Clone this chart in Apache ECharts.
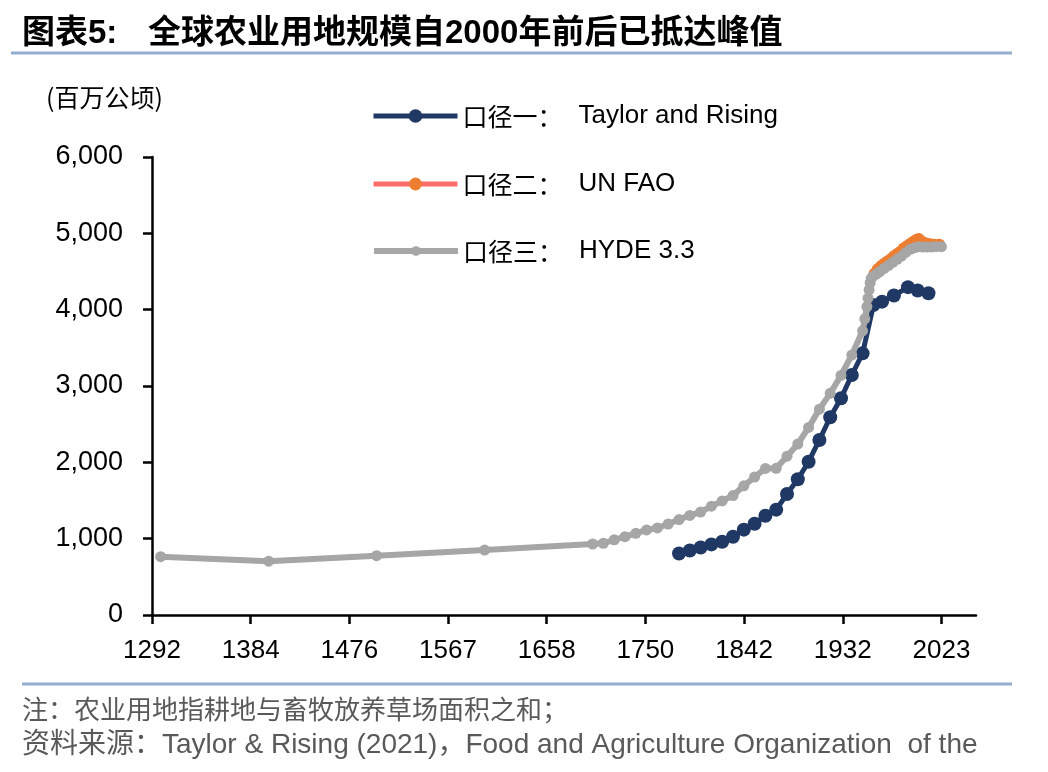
<!DOCTYPE html>
<html>
<head>
<meta charset="utf-8">
<script src="https://cdn.jsdelivr.net/npm/echarts@6/dist/echarts.min.js"></script>
<style>
html,body{margin:0;padding:0;background:#fff;}
#chart{width:1048px;height:772px;}
</style>
</head>
<body>
<div id="chart"></div>
<script>
// ---- data ----
const xTickLabels = ['1292','1384','1476','1567','1658','1750','1842','1932','2023'];
const seriesNames = ['Taylor and Rising', 'UN FAO', 'HYDE 3.3'];
const legendPrefix = ['口径一：', '口径二：', '口径三：'];

const taylorYears  = [1780,1790,1800,1810,1820,1830,1840,1850,1860,1870,1880,1890,1900,1910,1920,1930,1940,1950,1960,1968,1979,1992,2001,2011];
const taylorValues = [805,845,885,925,960,1026,1118,1195,1300,1380,1585,1778,2008,2293,2590,2839,3144,3428,4060,4105,4185,4295,4252,4215];

const faoYears  = [1961,1964,1967,1970,1973,1976,1979,1982,1985,1988,1991,1994,1997,2000,2002,2005,2008,2011,2014,2017,2021];
const faoValues = [4470,4530,4570,4600,4630,4660,4700,4730,4760,4800,4830,4860,4890,4915,4925,4890,4870,4860,4855,4850,4850];

const hydeYears  = [1300,1400,1500,1600,1700,1710,1720,1730,1740,1750,1760,1770,1780,1790,1800,1810,1820,1830,1840,1850,1860,1870,1880,1890,1900,1910,1920,1930,1940,1950,
                    1952,1954,1955,1956,1957,1958,1960,1963,1966,1970,1974,1978,1982,1986,1990,1994,1998,2002,2006,2010,2014,2018,2023];
const hydeValues = [764,705,777,851,930,940,985,1026,1070,1114,1140,1192,1250,1305,1348,1425,1495,1565,1692,1808,1920,1922,2080,2240,2457,2697,2904,3138,3406,3723,
                    3880,4040,4150,4260,4350,4410,4440,4470,4500,4540,4580,4620,4660,4700,4750,4790,4810,4825,4820,4820,4822,4825,4825];

// ---- derived ----
const xMin = 1292, xLast = 2023, xMax = 2055;
const xTickPos = xTickLabels.map((_, i) => xMin + i * (xLast - xMin) / (xTickLabels.length - 1));
const zip = (xs, ys) => xs.map((x, i) => [x, ys[i]]);

const LATIN = '"Liberation Sans", Arial, "Noto Sans CJK SC", sans-serif';
const CJK = '"Noto Sans CJK SC", "Liberation Sans", sans-serif';

const colors = {
  taylor: '#1F3864',
  faoLine: '#FF6B6B',
  faoMark: '#ED7D31',
  hyde: '#A6A6A6'
};

function legendFor(idx, top, itemHeight, lineWidth) {
  return {
    data: [seriesNames[idx]],
    orient: 'vertical',
    left: 366,
    top: top,
    itemWidth: 84,
    itemHeight: itemHeight,
    itemGap: 0,
    lineStyle: { width: lineWidth },
    formatter: name => '{cn|' + legendPrefix[seriesNames.indexOf(name)] + '}{en|' + name + '}',
    textStyle: {
      color: '#000',
      rich: {
        cn: { fontFamily: CJK, fontSize: 25, color: '#000', lineHeight: 30, padding: [0, 16, 0, 0] },
        en: { fontFamily: LATIN, fontSize: 26, color: '#000', lineHeight: 30 }
      }
    },
    selectedMode: false
  };
}

const chart = echarts.init(document.getElementById('chart'), null, { renderer: 'canvas' });

const option = {
  animation: false,
  backgroundColor: '#fff',
  grid: { left: 152, right: 72, top: 157, bottom: 157, containLabel: false },
  legend: [
    legendFor(0, 98, 17, 5),
    legendFor(1, 166, 16, 5),
    legendFor(2, 233, 12, 6)
  ],
  xAxis: {
    type: 'value',
    min: xMin,
    max: xMax,
    splitLine: { show: false },
    axisLine: { show: true, lineStyle: { color: '#000', width: 2.5 } },
    axisTick: { show: true, customValues: xTickPos, length: 9, lineStyle: { color: '#000', width: 2.5 } },
    axisLabel: {
      customValues: xTickPos,
      margin: 23,
      color: '#000',
      fontFamily: LATIN,
      fontSize: 26,
      formatter: v => {
        let best = 0, d = Infinity;
        xTickPos.forEach((p, i) => { if (Math.abs(p - v) < d) { d = Math.abs(p - v); best = i; } });
        return xTickLabels[best];
      }
    }
  },
  yAxis: {
    type: 'value',
    min: 0,
    max: 6000,
    interval: 1000,
    splitLine: { show: false },
    axisLine: { show: true, lineStyle: { color: '#000', width: 2.5 } },
    axisTick: { show: true, length: 9, lineStyle: { color: '#000', width: 2.5 } },
    axisLabel: {
      margin: 29,
      color: '#000',
      fontFamily: LATIN,
      fontSize: 27,
      formatter: v => v.toLocaleString('en-US')
    }
  },
  series: [
    {
      name: seriesNames[0],
      type: 'line',
      z: 3,
      data: zip(taylorYears, taylorValues),
      symbol: 'circle',
      symbolSize: 14,
      showAllSymbol: true,
      lineStyle: { color: colors.taylor, width: 5 },
      itemStyle: { color: colors.taylor }
    },
    {
      name: seriesNames[1],
      type: 'line',
      z: 2,
      data: zip(faoYears, faoValues),
      symbol: 'circle',
      symbolSize: 12,
      showAllSymbol: true,
      lineStyle: { color: colors.faoLine, width: 5 },
      itemStyle: { color: colors.faoMark }
    },
    {
      name: seriesNames[2],
      type: 'line',
      z: 4,
      data: zip(hydeYears, hydeValues),
      symbol: 'circle',
      symbolSize: 11,
      showAllSymbol: true,
      lineStyle: { color: colors.hyde, width: 6 },
      itemStyle: { color: colors.hyde }
    }
  ],
  graphic: [
    { type: 'text', left: 22, top: 17, style: { text: '图表5:', font: 'bold 33px ' + LATIN, fill: '#000' } },
    { type: 'text', left: 148, top: 17, style: { text: '全球农业用地规模自2000年前后已抵达峰值', font: 'bold 33px ' + LATIN, fill: '#000' } },
    { type: 'line', shape: { x1: 11, y1: 53, x2: 1012, y2: 53 }, style: { stroke: '#92AED0', lineWidth: 3 } },
    { type: 'text', left: 46, top: 85, style: { text: '(百万公顷)', font: '25px ' + CJK, fill: '#000' } },
    { type: 'line', shape: { x1: 22, y1: 684, x2: 1012, y2: 684 }, style: { stroke: '#92AED0', lineWidth: 3 } },
    { type: 'text', left: 22, top: 696, style: { text: '注：农业用地指耕地与畜牧放养草场面积之和；', font: '26px ' + CJK, fill: '#595959' } },
    { type: 'text', left: 22, top: 731, style: { text: '资料来源：Taylor & Rising (2021)，Food and Agriculture Organization  of the', font: '28px ' + LATIN, fill: '#595959' } }
  ]
};

chart.setOption(option);
</script>
</body>
</html>
